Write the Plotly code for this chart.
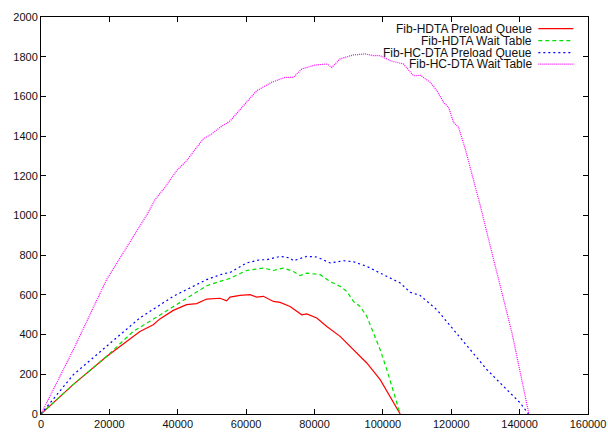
import plotly.graph_objects as go

# ---------------- data ----------------
series_names = ["Fib-HDTA Preload Queue", "Fib-HDTA Wait Table",
                "Fib-HC-DTA Preload Queue", "Fib-HC-DTA Wait Table"]

red_x = [0, 9400, 19180, 25040, 28930, 32830, 34780, 38690, 42600, 45530, 48460, 52360, 54310, 55290,
         58200, 61140, 63100, 65050, 67980, 69930, 72860, 76280, 77740, 80670, 83600, 87490, 91390,
         95290, 99210, 102140, 105070]
red_y = [0, 148, 290, 366, 416, 450, 479, 522, 551, 556, 579, 583, 570, 589,
         598, 601, 589, 593, 567, 562, 542, 500, 504, 484, 441, 391, 324,
         257, 173, 89, 0]

green_x = [0, 9400, 19180, 26970, 31850, 38690, 43570, 48460, 52360, 55290, 60170, 65050, 67980,
           70900, 73830, 75780, 77740, 81640, 84570, 87490, 89450, 91390, 93350, 95290, 97250,
           99210, 101160, 103120, 105070]
green_y = [0, 148, 290, 416, 467, 542, 593, 646, 668, 683, 723, 735, 723,
           735, 718, 697, 710, 702, 668, 643, 618, 567, 542, 492, 408,
           324, 223, 114, 0]

blue_x = [0, 9460, 19180, 28930, 38690, 43570, 48460, 53340, 55290, 60170, 64070, 66020, 69930,
          72860, 73830, 77740, 80670, 84570, 88470, 91390, 95290, 99210, 102140, 105070, 108000,
          110920, 115800, 120680, 125560, 130450, 135320, 140210, 142600]
blue_y = [0, 198, 341, 484, 593, 635, 677, 707, 713, 761, 777, 777, 794,
          786, 772, 794, 791, 761, 772, 767, 744, 710, 685, 660, 613,
          597, 525, 425, 324, 223, 139, 55, 0]

mag_x = [0, 9460, 19180, 28930, 31130, 33320, 36250, 39670, 42600, 45530, 47480, 49930, 52360,
         55290, 60170, 63100, 67490, 71390, 73830, 76280, 80180, 83600, 85060, 87490, 91390,
         94820, 97250, 99210, 102140, 106040, 108970, 111020, 113850, 115800, 117750, 119210,
         120680, 122140, 124100, 126540, 128490, 130450, 132880, 135320, 137770, 140210, 142700]
mag_y = [0, 324, 677, 944, 1008, 1079, 1142, 1226, 1276, 1343, 1386, 1411, 1444,
         1476, 1570, 1629, 1671, 1696, 1696, 1738, 1758, 1763, 1746, 1789, 1809,
         1814, 1805, 1805, 1780, 1763, 1704, 1706, 1671, 1629, 1570, 1545,
         1469, 1444, 1335, 1184, 1050, 912, 744, 576, 408, 207, 0]

x_ticks = [0, 20000, 40000, 60000, 80000, 100000, 120000, 140000, 160000]
y_ticks = [0, 200, 400, 600, 800, 1000, 1200, 1400, 1600, 1800, 2000]

colors = ["#ff0000", "#00e000", "#0000ff", "#ff00ff"]
dashes = ["solid", "4px,3px", "2px,3px", "1px,1px"]

# ---------------- figure ----------------
fig = go.Figure()
for name, xs, ys, c, d in zip(series_names, [red_x, green_x, blue_x, mag_x],
                              [red_y, green_y, blue_y, mag_y], colors, dashes):
    fig.add_trace(go.Scatter(x=xs, y=ys, mode="lines", name=name,
                             line=dict(color=c, width=1.2, dash=d), showlegend=False))

font_family = "Liberation Sans, Arial, Helvetica, sans-serif"

# manual gnuplot-style legend (text right-aligned, sample to the right)
row_py = [29, 41, 53, 64.5]
for i, (name, c, d) in enumerate(zip(series_names, colors, dashes)):
    yp = (414.3 - row_py[i]) / 397.0
    fig.add_annotation(x=(531 - 41.2) / 546.4, y=yp, xref="paper", yref="paper",
                       text=name, showarrow=False, xanchor="right", yanchor="middle",
                       xshift=2, borderpad=0,
                       font=dict(family=font_family, size=12, color="#111"))
    fig.add_shape(type="line", xref="paper", yref="paper",
                  x0=(538 - 41.2) / 546.4, x1=(573 - 41.2) / 546.4, y0=yp, y1=yp,
                  line=dict(color=c, width=1.2, dash=d))

axis_common = dict(showgrid=False, zeroline=False, showline=True, linecolor="black",
                   linewidth=1, mirror="allticks", ticks="inside", ticklen=5,
                   tickcolor="black", tickwidth=1,
                   tickfont=dict(family=font_family, size=11, color="#111"))

fig.update_xaxes(range=[0, 160000], tickvals=x_ticks, ticktext=[str(v) for v in x_ticks],
                 **axis_common)
fig.update_yaxes(range=[0, 2000], tickvals=y_ticks, ticktext=[str(v) for v in y_ticks],
                 **axis_common)

fig.update_layout(width=608, height=437, paper_bgcolor="white", plot_bgcolor="white",
                  margin=dict(l=41, r=20, t=17, b=23, autoexpand=False),
                  font=dict(family=font_family))

fig.write_html("out.html", config={"displayModeBar": False},
               post_script="document.body.style.margin='0';document.body.style.padding='0';")
